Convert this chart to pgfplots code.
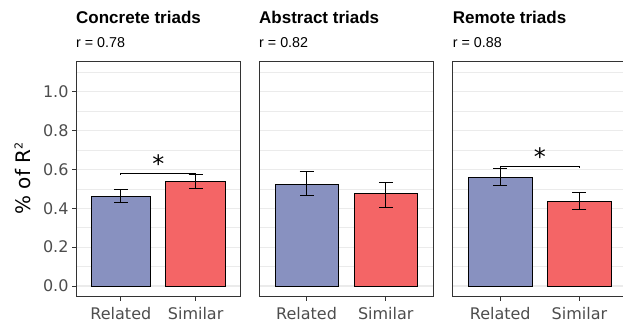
\documentclass[border=0pt]{standalone}
\usepackage{fontspec}
\setmainfont{Liberation Sans}
\newfontfamily\dejavu{DejaVu Sans}
\usepackage{pgfplots}
\pgfplotsset{compat=1.18}
\definecolor{relc}{RGB}{136,145,192}
\definecolor{simc}{RGB}{244,101,102}
\definecolor{gridc}{RGB}{235,235,235}
\definecolor{tickc}{RGB}{77,77,77}
\definecolor{framec}{RGB}{51,51,51}

\pgfplotsset{
 panel/.style={
  scale only axis, height=235bp, anchor=south west,
  xmin=0.4,xmax=2.6, ymin=-0.055,ymax=1.155,
  axis line style={draw=framec, line width=0.8bp},
  xtick={1,2}, xticklabels={Related,Similar},
  ytick={0,0.2,0.4,0.6,0.8,1.0}, minor ytick={0.1,0.3,0.5,0.7,0.9,1.1},
  ymajorgrids, yminorgrids,
  major grid style={draw=gridc, line width=1.1bp},
  minor grid style={draw=gridc, line width=0.6bp},
  minor tick length=0pt, major tick length=4bp,
  tick align=outside, tick style={draw=framec, line width=0.8bp},
  tick pos=left,
  /pgf/number format/assume math mode=true,
  /pgf/number format/fixed, /pgf/number format/fixed zerofill, /pgf/number format/precision=1,
  ticklabel style={font=\dejavu\fontsize{16bp}{16bp}\selectfont, text=tickc},
  xticklabel style={yshift=-3bp},
  clip=false,
 },
 relbar/.style={ybar, bar width=0.8, bar shift=0pt, fill=relc, draw=black, line width=0.6bp,
   error bars/.cd, y dir=both, y explicit,
   error bar style={black, line width=0.8bp},
   error mark options={rotate=90, mark size=7bp, black, line width=0.8bp}},
 simbar/.style={ybar, bar width=0.8, bar shift=0pt, fill=simc, draw=black, line width=0.6bp,
   error bars/.cd, y dir=both, y explicit,
   error bar style={black, line width=0.8bp},
   error mark options={rotate=90, mark size=7bp, black, line width=0.8bp}},
}

\begin{document}
\begin{tikzpicture}
\useasboundingbox (0,0) rectangle (623bp,326bp);

% Panel 1
\begin{axis}[panel, width=164.5bp, at={(76bp,29.3bp)}]
\addplot[relbar] coordinates {(1,0.464) += (0,0.032) -= (0,0.036)};
\addplot[simbar] coordinates {(2,0.537) += (0,0.036) -= (0,0.034)};
\addplot[black, line width=0.8bp] coordinates {(1,0.574) (1,0.582) (2,0.582) (2,0.574)};
\node[font=\dejavu\fontsize{24bp}{24bp}\selectfont, anchor=base] at (axis cs:1.5,0.585) {*};
\end{axis}

% Panel 2
\begin{axis}[panel, width=174.3bp, at={(259bp,29.3bp)}, yticklabels={}, ytick style={draw=none}]
\addplot[relbar] coordinates {(1,0.525) += (0,0.067) -= (0,0.058)};
\addplot[simbar] coordinates {(2,0.477) += (0,0.056) -= (0,0.070)};
\end{axis}

% Panel 3
\begin{axis}[panel, width=174.3bp, at={(452.7bp,29.3bp)}, yticklabels={}, ytick style={draw=none}]
\addplot[relbar] coordinates {(1,0.561) += (0,0.044) -= (0,0.041)};
\addplot[simbar] coordinates {(2,0.438) += (0,0.042) -= (0,0.043)};
\addplot[black, line width=0.8bp] coordinates {(1,0.607) (1,0.617) (2,0.617) (2,0.607)};
\node[font=\dejavu\fontsize{24bp}{24bp}\selectfont, anchor=base] at (axis cs:1.5,0.620) {*};
\end{axis}

% Titles
\node[anchor=base west, inner sep=0pt, font=\bfseries\fontsize{17bp}{17bp}\selectfont] at (76bp,302.7bp) {Concrete triads};
\node[anchor=base west, inner sep=0pt, font=\fontsize{14.3bp}{14.3bp}\selectfont] at (76bp,278.3bp) {r = 0.78};
\node[anchor=base west, inner sep=0pt, font=\bfseries\fontsize{17bp}{17bp}\selectfont] at (259bp,302.7bp) {Abstract triads};
\node[anchor=base west, inner sep=0pt, font=\fontsize{14.3bp}{14.3bp}\selectfont] at (259bp,278.3bp) {r = 0.82};
\node[anchor=base west, inner sep=0pt, font=\bfseries\fontsize{17bp}{17bp}\selectfont] at (452.7bp,302.7bp) {Remote triads};
\node[anchor=base west, inner sep=0pt, font=\fontsize{14.3bp}{14.3bp}\selectfont] at (452.7bp,278.3bp) {r = 0.88};

% Y label
\node[rotate=90, anchor=base, inner sep=0pt, font=\dejavu\fontsize{20bp}{20bp}\selectfont] at (30bp,147.5bp) {\% of R\raisebox{7.5bp}{\fontsize{11bp}{11bp}\selectfont 2}};
\end{tikzpicture}
\end{document}
